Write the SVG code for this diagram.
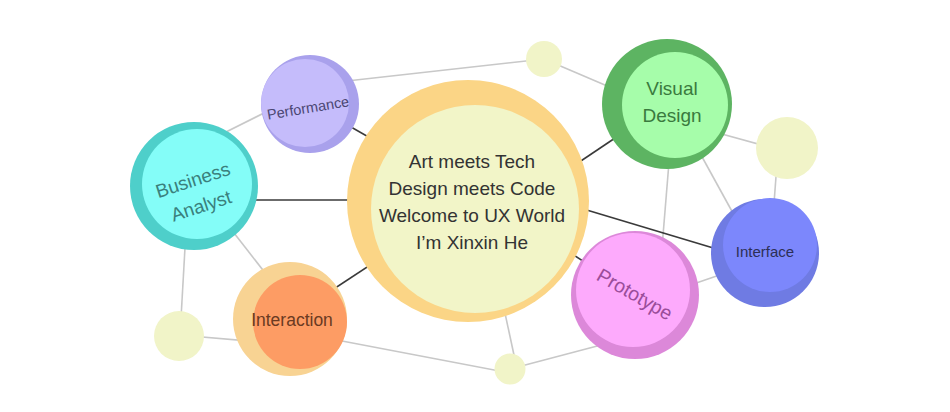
<svg xmlns="http://www.w3.org/2000/svg" width="950" height="412" viewBox="0 0 950 412">
<style>
.dark{stroke:#3a3a3a;stroke-width:1.6;fill:none}
.light{stroke:#c8c8c8;stroke-width:1.6;fill:none}
.dot{fill:#f1f4c8}
text{font-family:"Liberation Sans",Arial,sans-serif;text-anchor:middle}
</style>
<rect width="950" height="412" fill="#ffffff"/>
<g id="connectors">
<line class="light" x1="320" y1="84" x2="544" y2="59"/>
<line class="light" x1="544" y1="59" x2="640" y2="100"/>
<line class="light" x1="210" y1="140" x2="290" y2="100"/>
<line class="light" x1="700" y1="128" x2="787" y2="152"/>
<line class="light" x1="690" y1="135" x2="745" y2="235"/>
<line class="light" x1="670" y1="150" x2="661" y2="260"/>
<line class="light" x1="778" y1="150" x2="772" y2="230"/>
<line class="light" x1="670" y1="292" x2="740" y2="268"/>
<line class="light" x1="510" y1="369" x2="620" y2="340"/>
<line class="light" x1="500" y1="290" x2="517" y2="369"/>
<line class="light" x1="300" y1="333" x2="510" y2="373"/>
<line class="light" x1="179" y1="335" x2="260" y2="342"/>
<line class="light" x1="186" y1="230" x2="180" y2="336"/>
<line class="light" x1="220" y1="215" x2="280" y2="292"/>
<line class="dark" x1="330" y1="115" x2="400" y2="155"/>
<line class="dark" x1="240" y1="200" x2="380" y2="200"/>
<line class="dark" x1="560" y1="175" x2="630" y2="128"/>
<line class="dark" x1="560" y1="202" x2="740" y2="256"/>
<line class="dark" x1="320" y1="298" x2="390" y2="252"/>
<line class="dark" x1="555" y1="243" x2="600" y2="272"/>
</g>
<g id="dot-top"><circle class="dot" cx="544" cy="59" r="18"/></g>
<g id="dot-right"><circle class="dot" cx="787" cy="148" r="31"/></g>
<g id="dot-left"><circle class="dot" cx="179" cy="336" r="25"/></g>
<g id="dot-bottom"><circle class="dot" cx="510" cy="369" r="15.5"/></g>
<g id="performance">
<circle cx="310" cy="104" r="49" fill="#a9a1ec"/>
<circle cx="305" cy="103" r="44" fill="#c5bcfb"/>
<text x="308" y="113" font-size="14.5" fill="#4b4773" transform="rotate(-9.5 308 108)">Performance</text>
</g>
<g id="business-analyst">
<circle cx="194" cy="186" r="64" fill="#4ecfca"/>
<circle cx="197" cy="184" r="55" fill="#84fdf8"/>
<g transform="rotate(-18 197 193)" font-size="19" fill="#3a807c">
<text x="197" y="186">Business</text>
<text x="197" y="213">Analyst</text>
</g>
</g>
<g id="center">
<circle cx="468" cy="201" r="121" fill="#fbd586"/>
<circle cx="475" cy="209" r="104" fill="#f2f5c8"/>
<g font-size="19" fill="#333333">
<text x="472" y="168">Art meets Tech</text>
<text x="472" y="195">Design meets Code</text>
<text x="472" y="222">Welcome to UX World</text>
<text x="472" y="249">I’m Xinxin He</text>
</g>
</g>
<g id="visual-design">
<circle cx="667" cy="104" r="65" fill="#5db462"/>
<circle cx="675" cy="105" r="53" fill="#a6fdaa"/>
<g font-size="19" fill="#3a7a3e">
<text x="672" y="95">Visual</text>
<text x="672" y="122">Design</text>
</g>
</g>
<g id="interface">
<circle cx="765" cy="253" r="54" fill="#6f7be3"/>
<circle cx="770" cy="245" r="47" fill="#7c87fc"/>
<text x="765" y="257" font-size="15" fill="#2c2f55">Interface</text>
</g>
<g id="prototype">
<circle cx="635" cy="295" r="64" fill="#dc88d9"/>
<circle cx="633" cy="290" r="57" fill="#fdaafc"/>
<text x="635" y="301" font-size="19.5" fill="#9a4d9a" transform="rotate(30 635 294)">Prototype</text>
</g>
<g id="interaction">
<circle cx="290" cy="319" r="57" fill="#f8d393"/>
<circle cx="300" cy="322" r="47" fill="#fd9c64"/>
<text x="292" y="326" font-size="17.5" fill="#6a3a22">Interaction</text>
</g>
</svg>
